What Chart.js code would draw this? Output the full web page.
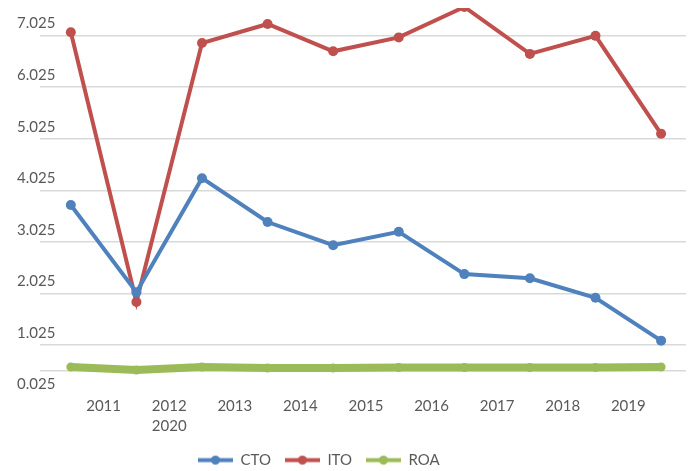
<!DOCTYPE html>
<html>
<head>
<meta charset="utf-8">
<script src="https://cdn.jsdelivr.net/npm/chart.js@4.4.1/dist/chart.umd.min.js"></script>
<style>
  html, body { margin: 0; padding: 0; background: #fff; }
  #wrap { width: 691px; height: 471px; }
</style>
</head>
<body>
<div id="wrap"><canvas id="chart"></canvas></div>
<script>
// data
const years = [2011, 2012, 2013, 2014, 2015, 2016, 2017, 2018, 2019, 2020];
const cto = [3.74, 2.05, 4.26, 3.41, 2.96, 3.22, 2.40, 2.32, 1.94, 1.11];
const ito = [7.09, 1.86, 6.88, 7.25, 6.72, 6.99, 7.58, 6.67, 7.02, 5.12];
const roa = [0.60, 0.54, 0.60, 0.58, 0.58, 0.59, 0.59, 0.59, 0.59, 0.60];

// axis labels as printed (labels sit between points, 2020 wrapped under 2012)
const xTickLabels = ['2011', ['2012', '2020'], '2013', '2014', '2015', '2016', '2017', '2018', '2019'];
const yTickValues = [0.025, 1.025, 2.025, 3.025, 4.025, 5.025, 6.025, 7.025];
const baseLine = 0.525;

const blue = '#4f81bd';
const red = '#c0504d';
const green = '#9bbb59';
const textColor = '#595959';

function legendIcon(color) {
    const c = document.createElement('canvas');
    c.width = 35;
    c.height = 11;
    const g = c.getContext('2d');
    g.strokeStyle = color;
    g.lineWidth = 4;
    g.beginPath();
    g.moveTo(0, 5.5);
    g.lineTo(35, 5.5);
    g.stroke();
    g.fillStyle = color;
    g.beginPath();
    g.arc(17.5, 5.5, 4.5, 0, Math.PI * 2);
    g.fill();
    return c;
}
const icons = [legendIcon(blue), legendIcon(red), legendIcon(green)];

// move the legend block to where the original has it
const legendShift = {
    id: 'legendShift',
    afterLayout(chart) {
        const lg = chart.legend;
        lg.left += 167;
        lg.right += 167;
        lg.top -= 3;
        lg.bottom -= 3;
    }
};

const ctx = document.getElementById('chart').getContext('2d');

const chart = new Chart(ctx, {
    type: 'line',
    data: {
        labels: years,
        datasets: [{
            label: 'CTO',
            data: cto,
            borderColor: blue,
            backgroundColor: blue,
            borderWidth: 4,
            pointRadius: 5,
            pointBorderWidth: 0
        }, {
            label: 'ITO',
            data: ito,
            borderColor: red,
            backgroundColor: red,
            borderWidth: 4,
            pointRadius: 5,
            pointBorderWidth: 0
        }, {
            label: 'ROA',
            data: roa,
            borderColor: green,
            backgroundColor: green,
            borderWidth: 8,
            pointRadius: 4.5,
            pointBorderWidth: 0
        }]
    },
    options: {
        responsive: true,
        maintainAspectRatio: false,
        animation: false,
        layout: {
            padding: { left: 17, top: 8, right: 1, bottom: -9.6 }
        },
        scales: {
            x: {
                type: 'linear',
                min: 2010.53,
                max: 2020.38,
                grid: { display: false, drawTicks: false },
                border: { display: false },
                afterBuildTicks: (scale) => {
                    scale.ticks = xTickLabels.map((_, i) => ({ value: years[i] + 0.5 }));
                },
                afterFit: (scale) => { scale.height = 45; },
                ticks: {
                    autoSkip: false,
                    maxRotation: 0,
                    padding: 0,
                    color: textColor,
                    font: { family: 'Lato', size: 15, lineHeight: 1.3 },
                    callback: (value, index) => xTickLabels[index]
                }
            },
            y: {
                min: 0.025,
                max: 7.56,
                border: { display: false },
                grid: {
                    drawTicks: false,
                    lineWidth: 1.5,
                    color: (c) => (c.tick && c.tick.value === 0.025) ? 'rgba(0,0,0,0)' : '#d9d9d9'
                },
                afterBuildTicks: (scale) => {
                    scale.ticks = [baseLine].concat(yTickValues).sort((a, b) => a - b).map(v => ({ value: v }));
                },
                afterFit: (scale) => { scale.width = 23; },
                ticks: {
                    mirror: true,
                    crossAlign: 'near',
                    padding: -23,
                    labelOffset: -12,
                    color: textColor,
                    font: { family: 'Lato', size: 15, lineHeight: 1 },
                    callback: (value) => value === baseLine ? '' : value.toFixed(3)
                }
            }
        },
        plugins: {
            legend: {
                position: 'bottom',
                align: 'start',
                labels: {
                    usePointStyle: true,
                    pointStyleWidth: 35,
                    padding: 14,
                    color: textColor,
                    font: { family: 'Lato', size: 15 },
                    generateLabels: (chart) => {
                        const items = Chart.defaults.plugins.legend.labels.generateLabels(chart);
                        items.forEach((item, i) => { item.pointStyle = icons[i]; });
                        return items;
                    }
                }
            },
            tooltip: { enabled: false }
        }
    },
    plugins: [legendShift]
});
</script>
</body>
</html>
